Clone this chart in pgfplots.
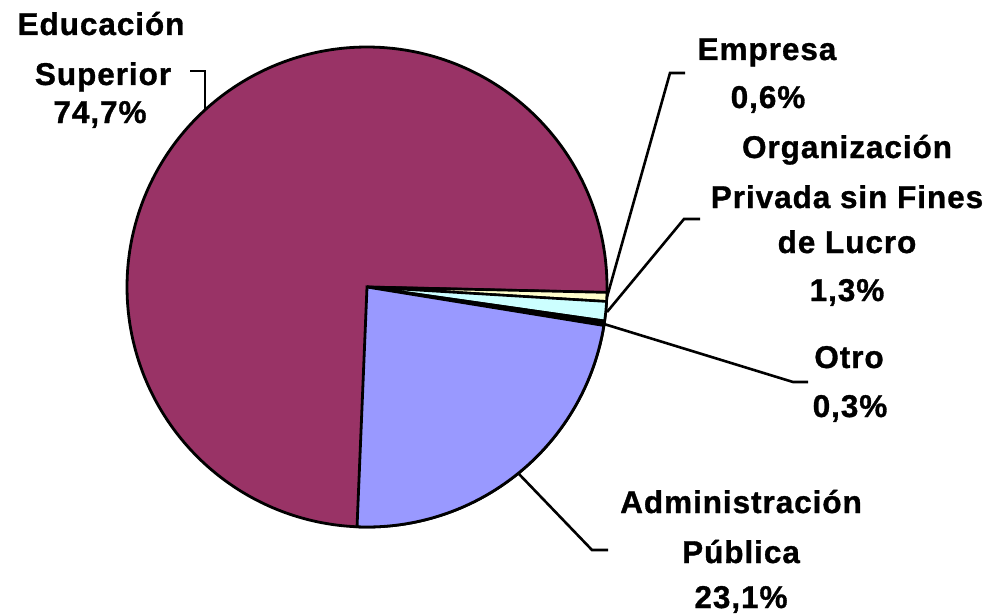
\documentclass[border=0pt]{standalone}
\usepackage{pgfplots}
\pgfplotsset{compat=1.18}
\usepackage{fontspec}
\setmainfont{Liberation Sans}
\definecolor{cEdu}{HTML}{993366}
\definecolor{cEmp}{HTML}{FFFFCC}
\definecolor{cOrg}{HTML}{CCFFFF}
\definecolor{cOtro}{HTML}{000000}
\definecolor{cAdm}{HTML}{9999FF}
% shares in percent
\def\pEdu{74.7}
\def\pEmp{0.6}
\def\pOrg{1.3}
\def\pOtro{0.3}
\def\pAdm{23.1}
\newcommand\lab{\bfseries\fontsize{31.5}{40}\selectfont\addfontfeatures{LetterSpace=3,FakeBold=1}}
\begin{document}
\begin{tikzpicture}
\pgfmathsetmacro\aA{-1.3}
\pgfmathsetmacro\aB{\aA-3.6*\pEmp}
\pgfmathsetmacro\aC{\aB-3.6*\pOrg}
\pgfmathsetmacro\aD{\aC-3.6*\pOtro}
\pgfmathsetmacro\aE{\aD-3.6*\pAdm}
\pgfmathsetmacro\aF{\aE-3.6*\pEdu}
\begin{axis}[
  scale only axis, width=992pt, height=615pt,
  xmin=0, xmax=992, ymin=0, ymax=615, y dir=reverse,
  hide axis, clip=false,
]
\def\cx{367}\def\cy{287}\def\r{240}
% slices
\addplot[fill=cEdu, draw=black, line width=2.8pt, domain=\aF:\aA, samples=120, smooth]
  ({\cx+\r*cos(x)},{\cy-\r*sin(x)}) -- (axis cs:\cx,\cy) -- cycle;
\addplot[fill=cEmp, draw=black, line width=2.6pt, domain=\aB:\aA, samples=5]
  ({\cx+\r*cos(x)},{\cy-\r*sin(x)}) -- (axis cs:\cx,\cy) -- cycle;
\addplot[fill=cOrg, draw=black, line width=2.6pt, domain=\aC:\aB, samples=5]
  ({\cx+\r*cos(x)},{\cy-\r*sin(x)}) -- (axis cs:\cx,\cy) -- cycle;
\addplot[fill=cOtro, draw=black, line width=2.6pt, domain=\aD:\aC, samples=3]
  ({\cx+\r*cos(x)},{\cy-\r*sin(x)}) -- (axis cs:\cx,\cy) -- cycle;
\addplot[fill=cAdm, draw=black, line width=2.8pt, domain=\aE:\aD, samples=60, smooth]
  ({\cx+\r*cos(x)},{\cy-\r*sin(x)}) -- (axis cs:\cx,\cy) -- cycle;
% leader lines
\addplot[black, line width=2.6pt] coordinates {(205,110) (205,71) (190,71)};
\addplot[black, line width=2.6pt] coordinates {(607,297) (670,73) (685,73)};
\addplot[black, line width=2.6pt] coordinates {(607,312) (684,219) (700,219)};
\addplot[black, line width=2.6pt] coordinates {(604,324) (793,382) (808,382)};
\addplot[black, line width=2.6pt] coordinates {(518,473) (592,550) (608,550)};
% labels
\node[anchor=base] at (axis cs:101,35) {\lab Educación};
\node[anchor=base] at (axis cs:103,85) {\lab Superior};
\node[anchor=base] at (axis cs:100,123) {\lab 74,7\%};
\node[anchor=base] at (axis cs:767,60) {\lab Empresa};
\node[anchor=base] at (axis cs:768,108) {\lab 0,6\%};
\node[anchor=base] at (axis cs:847,158) {\lab Organización};
\node[anchor=base] at (axis cs:847,208) {\lab Privada sin Fines};
\node[anchor=base] at (axis cs:847,253) {\lab de Lucro};
\node[anchor=base] at (axis cs:847,301) {\lab 1,3\%};
\node[anchor=base] at (axis cs:849,368) {\lab Otro};
\node[anchor=base] at (axis cs:850,417) {\lab 0,3\%};
\node[anchor=base] at (axis cs:741,513) {\lab Administración};
\node[anchor=base] at (axis cs:741,563) {\lab Pública};
\node[anchor=base] at (axis cs:741,608) {\lab 23,1\%};
\end{axis}
\pgfresetboundingbox
\path (0,0) rectangle (992pt,615pt);
\end{tikzpicture}
\end{document}
